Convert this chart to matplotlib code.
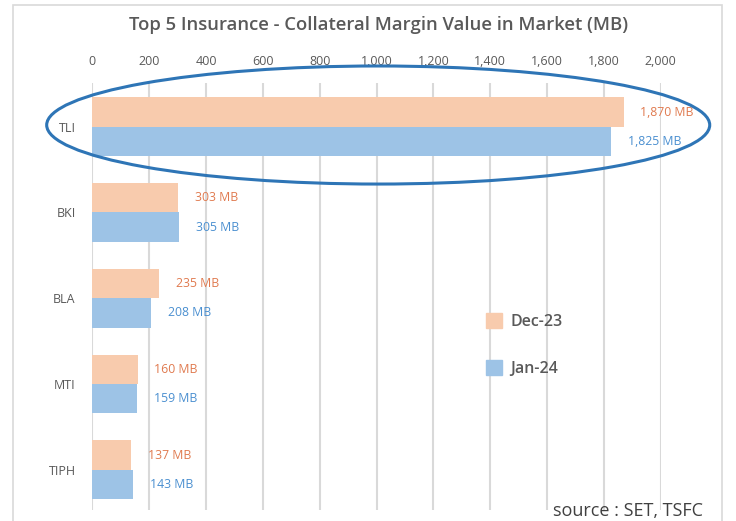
import matplotlib
matplotlib.use('Agg')
import matplotlib.pyplot as plt
from matplotlib.patches import Ellipse, Rectangle, Patch

plt.rcParams['font.family'] = ['Open Sans', 'DejaVu Sans']

# data
companies = ['TLI', 'BKI', 'BLA', 'MTI', 'TIPH']
dec23 = [1870, 303, 235, 160, 137]
jan24 = [1825, 305, 208, 159, 143]
series_names = ['Dec-23', 'Jan-24']
xticks = [0, 200, 400, 600, 800, 1000, 1200, 1400, 1600, 1800, 2000]

c_dec = '#F8CBAD'
c_jan = '#9DC3E6'
c_dec_txt = '#E07A4F'
c_jan_txt = '#4A8FD0'
grey = '#595959'

fig = plt.figure(figsize=(7.36, 5.21), dpi=100)

# outer frame
fig.patches.append(Rectangle((13 / 736, -0.2), (722 - 13) / 736, 1.2 - 5 / 521,
                             transform=fig.transFigure, fill=False,
                             edgecolor='#D9D9D9', lw=1.2))

ax = fig.add_axes([92.3 / 736, 1 - 510 / 521, (660.7 - 92.3) / 736, (510 - 83) / 521])

h = 0.342
pos = list(range(len(companies)))
ax.barh([p - h / 2 for p in pos], dec23, height=h, color=c_dec, zorder=2)
ax.barh([p + h / 2 for p in pos], jan24, height=h, color=c_jan, zorder=2)

for p, v in zip(pos, dec23):
    ax.annotate(f'{v:,} MB', xy=(v, p - h / 2), xytext=(12, 0), textcoords='offset points',
                va='center', ha='left', fontsize=8.8, color=c_dec_txt)
for p, v in zip(pos, jan24):
    ax.annotate(f'{v:,} MB', xy=(v, p + h / 2), xytext=(12, 0), textcoords='offset points',
                va='center', ha='left', fontsize=8.8, color=c_jan_txt)

ax.set_xlim(0, 2000)
ax.set_ylim(4.47, -0.51)
ax.set_yticks(pos)
ax.set_yticklabels(companies, fontsize=9, color=grey)
ax.tick_params(axis='y', length=0, pad=12)
ax.xaxis.tick_top()
ax.set_xticks(xticks)
ax.set_xticklabels([f'{t:,}' for t in xticks], fontsize=9, color=grey)
ax.tick_params(axis='x', length=0, pad=11)
ax.grid(axis='x', color='#D9D9D9', lw=1.5, zorder=0)
for s in ax.spines.values():
    s.set_visible(False)

# highlight ellipse around TLI
ax.add_patch(Ellipse((1006, -0.02), 2333, 1.377, fill=False, edgecolor='#2E75B6',
                     lw=2.2, clip_on=False, zorder=3))

handles = [Patch(color=c_dec), Patch(color=c_jan)]
fig.legend(handles, series_names, loc='upper left', bbox_to_anchor=(472 / 736, 1 - 299 / 521),
           frameon=False, labelcolor=grey, handlelength=1.0, handleheight=1.0,
           handletextpad=0.5, labelspacing=1.9, prop={'weight': 'semibold', 'size': 11.5})

fig.text(379 / 736, 1 - 25 / 521, 'Top 5 Insurance - Collateral Margin Value in Market (MB)',
         ha='center', va='center', fontsize=13.3, color=grey, fontweight='semibold')
fig.text(553 / 736, 1 / 521, 'source : SET, TSFC', ha='left', va='bottom',
         fontsize=13, color='#404040')

fig.savefig('out.png', dpi=100)
